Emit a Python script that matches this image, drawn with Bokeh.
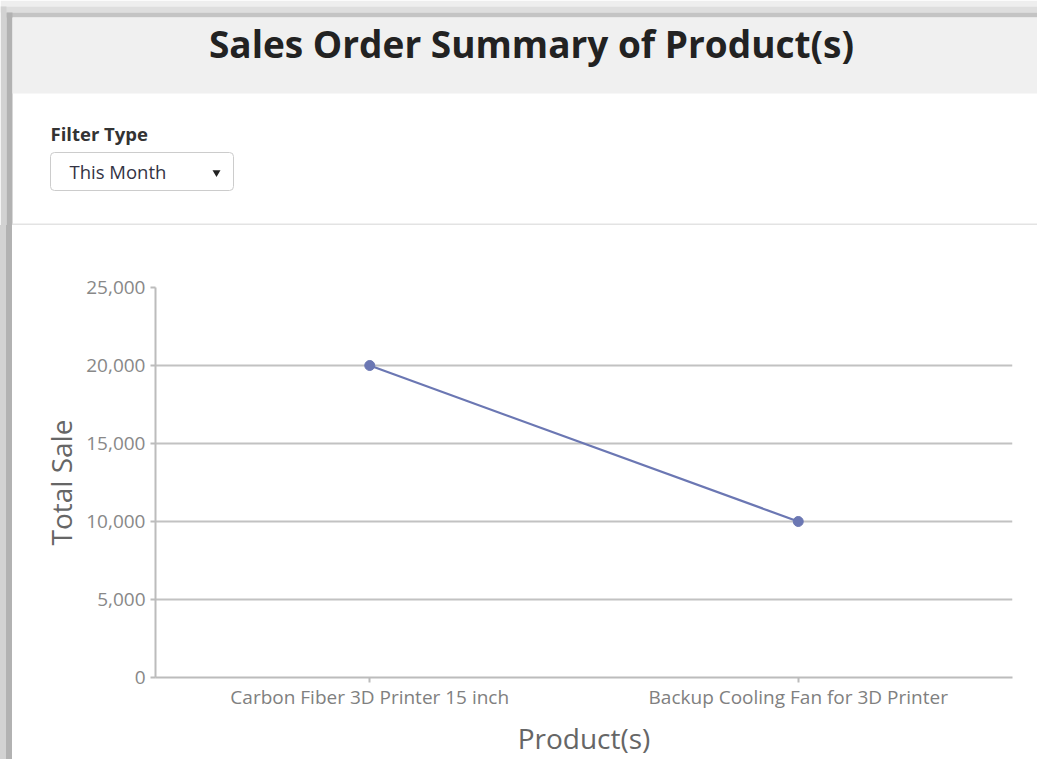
from bokeh.plotting import figure
from bokeh.layouts import column, row
from bokeh.models import Range1d, FactorRange, FixedTicker, NumeralTickFormatter, Div
from bokeh.core.properties import value
from bokeh.embed import file_html
from bokeh.resources import INLINE

# ---- data ----
products = ["Carbon Fiber 3D Printer 15 inch", "Backup Cooling Fan for 3D Printer"]
total_sale = [20000, 10000]
y_ticks = [0, 5000, 10000, 15000, 20000, 25000]
title_text = "Sales Order Summary of Product(s)"
filter_label = "Filter Type"
filter_value = "This Month"

FONT = value("Open Sans")

# ---- header (page decoration, pixel coordinates of the page) ----
hdr = figure(width=1037, height=225, x_range=Range1d(0, 1037), y_range=Range1d(225, 0),
             output_backend="svg", toolbar_location=None,
             x_axis_location=None, y_axis_location=None, min_border=0)
hdr.grid.visible = False
hdr.outline_line_color = None
hdr.background_fill_color = "white"
hdr.border_fill_color = "white"

# shadows / frame
hdr.quad(left=[0], right=[1037], top=[0], bottom=[6], fill_color="#eeeeee", line_color=None)
hdr.quad(left=[0], right=[1037], top=[6], bottom=[12], fill_color="#dedede", line_color=None)
hdr.quad(left=[6], right=[1037], top=[12], bottom=[17], fill_color="#c4c4c4", line_color=None)
hdr.quad(left=[0], right=[6], top=[6], bottom=[225], fill_color="#d2d2d2", line_color=None)
hdr.quad(left=[6], right=[12], top=[12], bottom=[225], fill_color="#b2b2b2", line_color=None)
# grey title band
hdr.quad(left=[12], right=[1037], top=[17], bottom=[93], fill_color="#f0f0f0", line_color=None)
# separator
hdr.quad(left=[12], right=[1037], top=[223], bottom=[225], fill_color="#e3e3e3", line_color=None)

hdr.text(x=[531], y=[43], text=[title_text], text_font=FONT, text_font_style="bold",
         text_font_size="37px", text_color="#222222", text_align="center", text_baseline="middle")
hdr.text(x=[50], y=[133], text=[filter_label], text_font=FONT, text_font_style="bold",
         text_font_size="18.5px", text_color="#333333", text_align="left", text_baseline="middle")
hdr.quad(left=[50], right=[233], top=[152], bottom=[190], fill_color="white",
         line_color="#cccccc", line_width=1, border_radius=4)
hdr.text(x=[69], y=[171], text=[filter_value], text_font=FONT,
         text_font_size="18.5px", text_color="#333344", text_align="left", text_baseline="middle")
hdr.scatter(x=[216], y=[172], marker="inverted_triangle", size=8, fill_color="#222222", line_color=None)

# ---- left frame bar next to the chart ----
bar = Div(text="", width=12, height=534, margin=0,
          styles={"background": "linear-gradient(to right, #d2d2d2 0px, #d2d2d2 6px, #b2b2b2 6px, #b2b2b2 12px)"})

# ---- chart ----
p = figure(width=1025, height=534, x_range=FactorRange(factors=products),
           y_range=Range1d(0, 25000), output_backend="svg", toolbar_location=None,
           min_border_left=143, min_border_right=25, min_border_top=62, min_border_bottom=81)
p.outline_line_color = None
p.background_fill_color = "white"
p.border_fill_color = "white"
p.xgrid.visible = False
p.ygrid.grid_line_color = "#c2c2c2"
p.ygrid.grid_line_width = 2

p.yaxis.ticker = FixedTicker(ticks=y_ticks)
p.yaxis.formatter = NumeralTickFormatter(format="0,0")
for ax in (p.xaxis[0], p.yaxis[0]):
    ax.axis_line_color = "#bcbcbc"
    ax.axis_line_width = 2
    ax.major_tick_line_color = "#bcbcbc"
    ax.major_tick_line_width = 2
    ax.major_tick_in = 0
    ax.major_tick_out = 5
    ax.minor_tick_line_color = None
    ax.major_label_text_font = "Open Sans"
    ax.axis_label_text_font = "Open Sans"
    ax.axis_label_text_font_style = "normal"
    ax.axis_label_text_font_size = "28px"
    ax.axis_label_text_color = "#666666"

p.yaxis.major_label_text_font_size = "19px"
p.yaxis.major_label_text_color = "#888888"
p.yaxis.major_label_standoff = 5
p.yaxis.axis_label = "Total Sale"
p.yaxis.axis_label_standoff = 3

p.xaxis.major_label_text_font_size = "19px"
p.xaxis.major_label_text_color = "#808080"
p.xaxis.major_label_standoff = 1
p.xaxis.axis_label = "Product(s)"
p.xaxis.axis_label_standoff = 6

p.line(x=products, y=total_sale, line_color="#6b77b3", line_width=2.2)
p.scatter(x=products, y=total_sale, size=10, fill_color="#6b77b3", line_color="#6b77b3")

layout = column(hdr, row(bar, p, spacing=0), spacing=0)
open("out.html", "w").write(file_html(layout, INLINE))
